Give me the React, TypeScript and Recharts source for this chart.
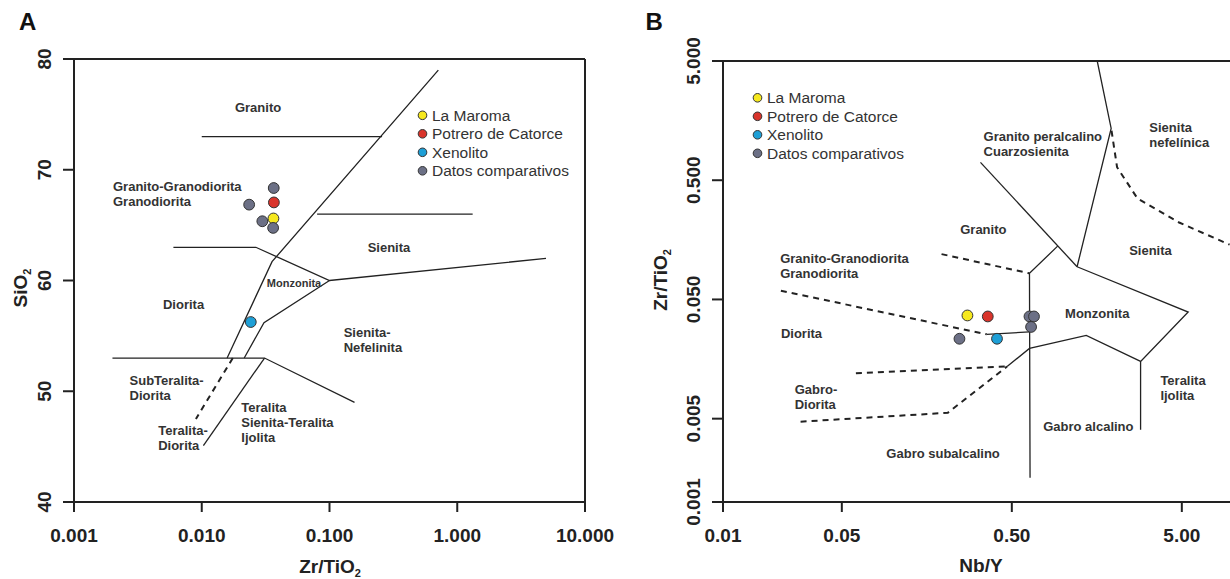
import React from "react";
import {
  ScatterChart,
  Scatter,
  XAxis,
  YAxis,
  ReferenceLine,
} from "recharts";

const FONT = "Arial, 'Liberation Sans', Helvetica, sans-serif";
const INK = "#222";

// series (name + colour), shared by both panels
const seriesNames = ["La Maroma", "Potrero de Catorce", "Xenolito", "Datos comparativos"];
const seriesColors = ["#f6e81e", "#d9342b", "#1e9fd6", "#6c7086"];

// ---- Panel A: SiO2 vs Zr/TiO2 ----
const ticksAX = [0.001, 0.01, 0.1, 1, 10];
const ticksAY = [40, 50, 60, 70, 80];

const maromaA = [{ x: 0.0364, y: 65.6 }];
const potreroA = [{ x: 0.0367, y: 67.05 }];
const xenolitoA = [{ x: 0.0242, y: 56.25 }];
const datosA = [
  { x: 0.0366, y: 68.35 },
  { x: 0.0235, y: 66.85 },
  { x: 0.0298, y: 65.35 },
  { x: 0.0362, y: 64.75 },
];

const granitoLineA = [{ x: 0.01, y: 73 }, { x: 0.258, y: 73 }];
const diagonalA = [{ x: 0.0158, y: 53 }, { x: 0.0355, y: 61.7 }, { x: 0.711, y: 79 }];
const sienitaLineA = [{ x: 0.08, y: 66 }, { x: 1.32, y: 66 }];
const monzTopA = [{ x: 0.006, y: 63 }, { x: 0.0265, y: 63 }, { x: 0.1, y: 60 }, { x: 4.95, y: 62 }];
const monzLowA = [{ x: 0.1, y: 60 }, { x: 0.0307, y: 56.2 }, { x: 0.0215, y: 53 }];
const baseLineA = [{ x: 0.002, y: 53 }, { x: 0.031, y: 53 }, { x: 0.157, y: 49 }];
const teralitaLineA = [{ x: 0.031, y: 53 }, { x: 0.0103, y: 45.1 }];
const dashedA = [{ x: 0.0175, y: 53 }, { x: 0.009, y: 47.5 }];

const solidA = [granitoLineA, diagonalA, sienitaLineA, monzTopA, monzLowA, baseLineA, teralitaLineA];

const labelsA = [
  { x: 0.0276, y: 75.6, lines: ["Granito"], anchor: "middle" },
  { x: 0.00202, y: 68.5, lines: ["Granito-Granodiorita", "Granodiorita"], anchor: "start" },
  { x: 0.0528, y: 59.75, lines: ["Monzonita"], anchor: "middle", small: true },
  { x: 0.292, y: 63.0, lines: ["Sienita"], anchor: "middle" },
  { x: 0.0072, y: 57.85, lines: ["Diorita"], anchor: "middle" },
  { x: 0.129, y: 55.3, lines: ["Sienita-", "Nefelinita"], anchor: "start" },
  { x: 0.00272, y: 51.0, lines: ["SubTeralita-", "Diorita"], anchor: "start" },
  { x: 0.00456, y: 46.5, lines: ["Teralita-", "Diorita"], anchor: "start" },
  { x: 0.0204, y: 48.57, lines: ["Teralita", "Sienita-Teralita", "Ijolita"], anchor: "start" },
];

// ---- Panel B: Zr/TiO2 vs Nb/Y ----
const ticksBX = [0.01, 0.05, 0.5, 5];
const ticksBY = [0.001, 0.005, 0.05, 0.5, 5];

const maromaB = [{ x: 0.274, y: 0.0367 }];
const potreroB = [{ x: 0.361, y: 0.036 }];
const xenolitoB = [{ x: 0.409, y: 0.0234 }];
const datosB = [
  { x: 0.635, y: 0.036 },
  { x: 0.675, y: 0.036 },
  { x: 0.649, y: 0.0294 },
  { x: 0.246, y: 0.0234 },
];

const topLineB = [{ x: 1.59, y: 5 }, { x: 1.92, y: 1.36 }, { x: 1.21, y: 0.094 }];
const peralLineB = [{ x: 0.327, y: 0.706 }, { x: 1.21, y: 0.094 }];
const granitoLineB = [{ x: 0.93, y: 0.14 }, { x: 0.635, y: 0.0828 }, { x: 0.64, y: 0.0016 }];
const monzUpperB = [{ x: 1.21, y: 0.094 }, { x: 5.45, y: 0.0392 }, { x: 2.86, y: 0.0151 }, { x: 2.86, y: 0.00404 }];
const monzLowerB = [{ x: 2.86, y: 0.0151 }, { x: 1.37, y: 0.025 }, { x: 0.635, y: 0.0194 }, { x: 0.469, y: 0.0137 }];
const dioritaLineB = [{ x: 0.356, y: 0.0255 }, { x: 0.635, y: 0.0267 }];

const dashGranodB = [{ x: 0.0219, y: 0.0592 }, { x: 0.356, y: 0.0255 }];
const dashGranitoB = [{ x: 0.193, y: 0.12 }, { x: 0.635, y: 0.0828 }];
const dashGabroUpB = [{ x: 0.0605, y: 0.012 }, { x: 0.469, y: 0.0137 }];
const dashGabroLowB = [{ x: 0.0286, y: 0.00472 }, { x: 0.21, y: 0.0056 }, { x: 0.469, y: 0.0137 }];
const dashNefelinB = [{ x: 1.93, y: 1.3 }, { x: 2.08, y: 0.643 }, { x: 2.74, y: 0.352 }, { x: 4.82, y: 0.221 }, { x: 9.55, y: 0.144 }];

const solidB = [topLineB, peralLineB, granitoLineB, monzUpperB, monzLowerB, dioritaLineB];
const dashedB = [dashGranodB, dashGranitoB, dashGabroUpB, dashGabroLowB, dashNefelinB];

const labelsB = [
  { x: 0.341, y: 1.16, lines: ["Granito peralcalino", "Cuarzosienita"], anchor: "start" },
  { x: 3.22, y: 1.39, lines: ["Sienita", "nefelínica"], anchor: "start" },
  { x: 0.34, y: 0.195, lines: ["Granito"], anchor: "middle" },
  { x: 3.27, y: 0.128, lines: ["Sienita"], anchor: "middle" },
  { x: 0.0217, y: 0.111, lines: ["Granito-Granodiorita", "Granodiorita"], anchor: "start" },
  { x: 1.59, y: 0.0378, lines: ["Monzonita"], anchor: "middle" },
  { x: 0.0219, y: 0.0257, lines: ["Diorita"], anchor: "start" },
  { x: 3.74, y: 0.01036, lines: ["Teralita", "Ijolita"], anchor: "start" },
  { x: 0.0264, y: 0.00877, lines: ["Gabro-", "Diorita"], anchor: "start" },
  { x: 1.41, y: 0.00434, lines: ["Gabro alcalino"], anchor: "middle" },
  { x: 0.197, y: 0.00254, lines: ["Gabro subalcalino"], anchor: "middle" },
];

const noShape = () => <g />;

const dot = (color: string) => (p: any) => (
  <circle cx={p.cx} cy={p.cy} r={5.4} fill={color} stroke="#333" strokeWidth={1} />
);

const fieldLabel = (p: any) => {
  const d = p.payload;
  return (
    <text
      x={p.cx}
      y={p.cy}
      textAnchor={d.anchor}
      fontFamily={FONT}
      fontWeight="bold"
      fontSize={d.small ? 11 : 13}
      fill="#333"
    >
      {d.lines.map((l: string, i: number) => (
        <tspan key={i} x={p.cx} dy={i === 0 ? "0.35em" : 15}>
          {l}
        </tspan>
      ))}
    </text>
  );
};

const rotTick = (fmt: (v: number) => string) => (p: any) => (
  <text
    transform={`translate(${p.x},${p.y}) rotate(-90)`}
    textAnchor="middle"
    dy="0.35em"
    fontFamily={FONT}
    fontWeight="bold"
    fontSize={19}
    fill={INK}
  >
    {fmt(p.payload.value)}
  </text>
);

const axisStyle = { stroke: INK, strokeWidth: 2 };
const xTickStyle = { fontSize: 19, fontWeight: "bold", fill: INK, fontFamily: FONT };

function Legend({ x, y }: { x: number; y: number }) {
  return (
    <g>
      {seriesNames.map((name, i) => (
        <g key={name}>
          <circle cx={x} cy={y + i * 18.5} r={4.3} fill={seriesColors[i]} stroke="#333" strokeWidth={1} />
          <text x={x + 9.5} y={y + i * 18.5} dy="0.35em" fontFamily={FONT} fontSize={15.5} fill="#333">
            {name}
          </text>
        </g>
      ))}
    </g>
  );
}

function Title({ x, y, main, sub, rotate }: any) {
  return (
    <text
      transform={`translate(${x},${y})${rotate ? " rotate(-90)" : ""}`}
      textAnchor="middle"
      dy="0.35em"
      fontFamily={FONT}
      fontWeight="bold"
      fontSize={19}
      fill={INK}
    >
      {main}
      {sub && (
        <tspan fontSize={11} dy={4}>
          {sub}
        </tspan>
      )}
    </text>
  );
}

export default function App() {
  const pointSetsA = [maromaA, potreroA, xenolitoA, datosA];
  const pointSetsB = [maromaB, potreroB, xenolitoB, datosB];

  return (
    <div
      style={{
        position: "fixed",
        left: 0,
        top: 0,
        width: 1230,
        height: 579,
        overflow: "hidden",
        background: "#fff",
      }}
    >
      {/* A */}
      <div style={{ position: "absolute", left: 0, top: 0 }}>
        <ScatterChart width={650} height={579} margin={{ top: 59, right: 65, bottom: 47, left: 14 }}>
          <XAxis
            type="number"
            dataKey="x"
            scale="log"
            domain={[0.001, 10]}
            ticks={ticksAX}
            allowDataOverflow
            tickFormatter={(v) => v.toFixed(3)}
            axisLine={axisStyle}
            tickLine={axisStyle}
            tickSize={10}
            tickMargin={17}
            tick={xTickStyle}
            interval={0}
          />
          <YAxis
            type="number"
            dataKey="y"
            domain={[40, 80]}
            ticks={ticksAY}
            allowDataOverflow
            axisLine={axisStyle}
            tickLine={axisStyle}
            tickSize={11}
            tickMargin={19}
            tick={rotTick((v) => String(v))}
            interval={0}
          />
          <ReferenceLine y={80} stroke={INK} strokeWidth={2} />
          <ReferenceLine x={10} stroke={INK} strokeWidth={2} />
          {solidA.map((d, i) => (
            <Scatter key={`sa${i}`} data={d} fill="none" shape={noShape} line={{ stroke: INK, strokeWidth: 1.3 }} isAnimationActive={false} />
          ))}
          <Scatter data={dashedA} fill="none" shape={noShape} line={{ stroke: INK, strokeWidth: 2, strokeDasharray: "6 5" }} isAnimationActive={false} />
          <Scatter data={labelsA} shape={fieldLabel} isAnimationActive={false} />
          {pointSetsA.map((d, i) => (
            <Scatter key={`pa${i}`} name={seriesNames[i]} data={d} shape={dot(seriesColors[i])} isAnimationActive={false} />
          ))}
        </ScatterChart>
      </div>

      {/* B */}
      <div style={{ position: "absolute", left: 620, top: 0 }}>
        <ScatterChart width={630} height={579} margin={{ top: 61, right: 17, bottom: 47, left: 43 }}>
          <XAxis
            type="number"
            dataKey="x"
            scale="log"
            domain={[0.01, 10]}
            ticks={ticksBX}
            allowDataOverflow
            tickFormatter={(v) => v.toFixed(2)}
            axisLine={axisStyle}
            tickLine={axisStyle}
            tickSize={10}
            tickMargin={17}
            tick={xTickStyle}
            interval={0}
          />
          <YAxis
            type="number"
            dataKey="y"
            scale="log"
            domain={[0.001, 5]}
            ticks={ticksBY}
            allowDataOverflow
            axisLine={axisStyle}
            tickLine={axisStyle}
            tickSize={11}
            tickMargin={19}
            tick={rotTick((v) => v.toFixed(3))}
            interval={0}
          />
          <ReferenceLine y={5} stroke={INK} strokeWidth={2} />
          {solidB.map((d, i) => (
            <Scatter key={`sb${i}`} data={d} fill="none" shape={noShape} line={{ stroke: INK, strokeWidth: 1.3 }} isAnimationActive={false} />
          ))}
          {dashedB.map((d, i) => (
            <Scatter key={`db${i}`} data={d} fill="none" shape={noShape} line={{ stroke: INK, strokeWidth: 2, strokeDasharray: "6 5" }} isAnimationActive={false} />
          ))}
          <Scatter data={labelsB} shape={fieldLabel} isAnimationActive={false} />
          {pointSetsB.map((d, i) => (
            <Scatter key={`pb${i}`} name={seriesNames[i]} data={d} shape={dot(seriesColors[i])} isAnimationActive={false} />
          ))}
        </ScatterChart>
      </div>

      {/* titles, panel letters, legends */}
      <svg width={1230} height={579} style={{ position: "absolute", left: 0, top: 0, pointerEvents: "none" }}>
        <text x={19} y={30.3} fontFamily={FONT} fontWeight="bold" fontSize={24} fill="#111">A</text>
        <text x={645.5} y={30.3} fontFamily={FONT} fontWeight="bold" fontSize={24} fill="#111">B</text>
        <Title x={20.4} y={288} main="SiO" sub="2" rotate />
        <Title x={330} y={566} main="Zr/TiO" sub="2" />
        <Title x={660.6} y={280} main="Zr/TiO" sub="2" rotate />
        <Title x={981} y={565} main="Nb/Y" />
        <Legend x={422.5} y={115.3} />
        <Legend x={757.5} y={97.8} />
      </svg>
    </div>
  );
}
